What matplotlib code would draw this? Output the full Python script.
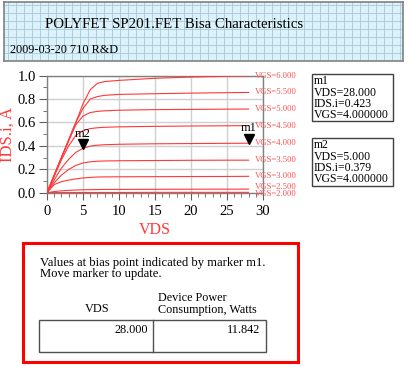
import matplotlib
matplotlib.use("Agg")
import matplotlib.pyplot as plt
from matplotlib.patches import Rectangle
import numpy as np

plt.rcParams['font.family'] = ['Liberation Serif', 'DejaVu Serif']

# ---- data ----
vds = [0, 1, 2, 3, 4, 5, 6, 7, 8, 10, 15, 20, 25, 28]
vgs_labels = ["VGS=6.000", "VGS=5.500", "VGS=5.000", "VGS=4.500", "VGS=4.000",
              "VGS=3.500", "VGS=3.000", "VGS=2.500", "VGS=2.000"]
ids_6p0 = [0, 0.15, 0.30, 0.45, 0.60, 0.76, 0.88, 0.935, 0.950, 0.960, 0.978, 0.988, 0.995, 0.998]
ids_5p5 = [0, 0.15, 0.30, 0.45, 0.60, 0.72, 0.80, 0.822, 0.832, 0.840, 0.846, 0.851, 0.855, 0.857]
ids_5p0 = [0, 0.15, 0.30, 0.44, 0.58, 0.655, 0.685, 0.695, 0.700, 0.705, 0.710, 0.712, 0.714, 0.715]
ids_4p5 = [0, 0.14, 0.28, 0.40, 0.49, 0.530, 0.548, 0.555, 0.559, 0.563, 0.567, 0.570, 0.572, 0.573]
ids_4p0 = [0, 0.11, 0.21, 0.285, 0.345, 0.379, 0.398, 0.406, 0.410, 0.414, 0.418, 0.420, 0.422, 0.423]
ids_3p5 = [0, 0.085, 0.150, 0.198, 0.233, 0.254, 0.264, 0.269, 0.271, 0.273, 0.275, 0.277, 0.278, 0.278]
ids_3p0 = [0, 0.070, 0.094, 0.108, 0.118, 0.126, 0.131, 0.134, 0.135, 0.136, 0.137, 0.138, 0.139, 0.140]
ids_2p5 = [0, 0.010, 0.016, 0.020, 0.023, 0.025, 0.026, 0.027, 0.028, 0.028, 0.029, 0.030, 0.030, 0.031]
ids_2p0 = [0, 0.001, 0.001, 0.002, 0.002, 0.002, 0.002, 0.002, 0.002, 0.002, 0.003, 0.003, 0.003, 0.003]
curves = [ids_6p0, ids_5p5, ids_5p0, ids_4p5, ids_4p0, ids_3p5, ids_3p0, ids_2p5, ids_2p0]

m1_vds, m1_ids = 28.0, 0.423
m2_vds, m2_ids = 5.0, 0.379

title = "POLYFET SP201.FET Bisa Characteristics"
subtitle = "2009-03-20 710 R&D"
m1_lines = ["m1", "VDS=28.000", "IDS.i=0.423", "VGS=4.000000"]
m2_lines = ["m2", "VDS=5.000", "IDS.i=0.379", "VGS=4.000000"]
table_vds = "28.000"
table_power = "11.842"

W, H = 410, 366
fig = plt.figure(figsize=(W / 100, H / 100), dpi=100)
fig.patch.set_facecolor("white")

def rect(x0, y0, x1, y1):
    return [x0 / W, 1 - y1 / H, (x1 - x0) / W, (y1 - y0) / H]

# ---- title box ----
axt = fig.add_axes(rect(4, 2, 403, 61))
axt.set_facecolor("#dcf2fb")
axt.set_xlim(0, 399)
axt.set_ylim(59, 0)
axt.set_xticks(np.arange(4, 399, 8))
axt.set_yticks(np.arange(3, 59, 8))
axt.grid(True, color="#a8c8d8", lw=0.6)
axt.tick_params(length=0, labelbottom=False, labelleft=False)
for s in axt.spines.values():
    s.set_color("#808080")
    s.set_linewidth(1.2)
axt.text(41, 22, title, fontsize=10.7, va="center", ha="left")
axt.text(6, 48, subtitle, fontsize=8.8, va="center", ha="left")

# ---- main plot ----
ax = fig.add_axes(rect(47, 75.7, 263, 192.7))
red = "#ff3838"
for c in curves:
    ax.plot(vds, c, color=red, lw=0.8, zorder=3)
ax.set_xlim(0, 30)
ax.set_ylim(0, 1.0)
ax.set_xticks(np.arange(0, 31, 5))
ax.set_xticks(np.arange(0, 31, 1), minor=True)
ax.set_yticks(np.arange(0, 1.01, 0.2))
ax.set_yticks(np.arange(0, 1.01, 0.1), minor=True)
ax.set_yticklabels(["0.0", "0.2", "0.4", "0.6", "0.8", "1.0"])
ax.tick_params(which="both", direction="out", color="#606060", labelsize=10.5)
ax.tick_params(axis="x", which="major", length=5, pad=4)
ax.tick_params(axis="x", which="minor", length=3)
ax.tick_params(axis="y", which="major", length=6, pad=2)
ax.tick_params(axis="y", which="minor", length=3)
ax.grid(True, which="major", color="#d0d0d0", lw=1.0, zorder=0)
for s in ax.spines.values():
    s.set_color("#808080")
    s.set_linewidth(1.0)
ax.set_xlabel("VDS", color=red, fontsize=11.5, labelpad=3)
ax.set_ylabel("IDS.i, A", color=red, fontsize=12, labelpad=1)

label_offsets = [0, 0, 0, 0, 0, 0, 0, 0.02, -0.012]
for lab, c, off in zip(vgs_labels, curves, label_offsets):
    ax.text(28.9, c[-1] + off, lab, color="#ff5050", fontsize=6.2, va="center", ha="left",
            clip_on=False, zorder=4)

for mx, my, name in [(m1_vds, m1_ids, "m1"), (m2_vds, m2_ids, "m2")]:
    ax.plot([mx], [my + 0.035], marker="v", color="black", ms=7.5, zorder=5, clip_on=False)
    ax.text(mx, my + 0.075, name, fontsize=9, ha="center", va="bottom", zorder=5)

# ---- overlay in pixel coords ----
ov2 = fig.add_axes([0, 0, 1, 1])
ov2.set_xlim(0, W)
ov2.set_ylim(H, 0)
ov2.axis("off")
ov2.patch.set_alpha(0)

# marker boxes
for (y0, y1), lines in [((74, 121), m1_lines), ((138, 186), m2_lines)]:
    ov2.add_patch(Rectangle((312, y0), 81, y1 - y0, fill=False, ec="#404040", lw=1.0))
    for i, t in enumerate(lines):
        ov2.text(314, y0 + 7 + i * 11.5, t, fontsize=8.5, va="center", ha="left")

# red info box
ov2.add_patch(Rectangle((23.5, 242.5), 274.5, 119, fill=False, ec="#ff0000", lw=2.2))
ov2.text(40, 263, "Values at bias point indicated by marker m1.", fontsize=9.1, va="center")
ov2.text(40, 274, "Move marker to update.", fontsize=9.1, va="center")
ov2.text(97, 309, "VDS", fontsize=8.8, va="center", ha="center")
ov2.text(158, 298, "Device Power", fontsize=8.7, va="center", ha="left")
ov2.text(158, 310, "Consumption, Watts", fontsize=8.7, va="center", ha="left")
ov2.add_patch(Rectangle((39.5, 319.5), 227, 32.5, fill=False, ec="#505050", lw=1.0))
ov2.plot([153.5, 153.5], [319.5, 352], color="#505050", lw=1.0)
ov2.text(148, 330, table_vds, fontsize=8.8, va="center", ha="right")
ov2.text(260, 330, table_power, fontsize=8.8, va="center", ha="right")

fig.savefig("out.png", dpi=100, facecolor="white")
